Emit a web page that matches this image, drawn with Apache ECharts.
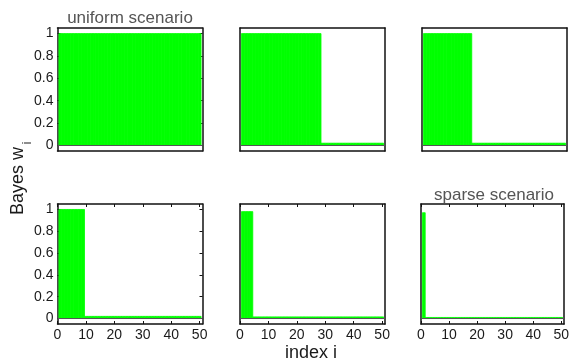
<!DOCTYPE html>
<html>
<head>
<meta charset="utf-8">
<script src="https://cdn.jsdelivr.net/npm/echarts@6/dist/echarts.min.js"></script>
<style>html,body{margin:0;padding:0;background:#fff}#c{width:572px;height:362px}</style>
</head>
<body>
<div id="c"></div>
<script>
// index i
const indexI = [1,2,3,4,5,6,7,8,9,10,11,12,13,14,15,16,17,18,19,20,21,22,23,24,25,26,27,28,29,30,31,32,33,34,35,36,37,38,39,40,41,42,43,44,45,46,47,48,49,50];
// Bayes weights per panel
const w1 = [1,1,1,1,1,1,1,1,1,1, 1,1,1,1,1,1,1,1,1,1, 1,1,1,1,1,1,1,1,1,1, 1,1,1,1,1,1,1,1,1,1, 1,1,1,1,1,1,1,1,1,1];
const w2 = [1,1,1,1,1,1,1,1,1,1, 1,1,1,1,1,1,1,1,1,1, 1,1,1,1,1,1,1,1,0.02,0.02, 0.02,0.02,0.02,0.02,0.02,0.02,0.02,0.02,0.02,0.02, 0.02,0.02,0.02,0.02,0.02,0.02,0.02,0.02,0.02,0.02];
const w3 = [1,1,1,1,1,1,1,1,1,1, 1,1,1,1,1,1,1,0.02,0.02,0.02, 0.02,0.02,0.02,0.02,0.02,0.02,0.02,0.02,0.02,0.02, 0.02,0.02,0.02,0.02,0.02,0.02,0.02,0.02,0.02,0.02, 0.02,0.02,0.02,0.02,0.02,0.02,0.02,0.02,0.02,0.02];
const w4 = [1,1,1,1,1,1,1,1,1,0.02, 0.02,0.02,0.02,0.02,0.02,0.02,0.02,0.02,0.02,0.02, 0.02,0.02,0.02,0.02,0.02,0.02,0.02,0.02,0.02,0.02, 0.02,0.02,0.02,0.02,0.02,0.02,0.02,0.02,0.02,0.02, 0.02,0.02,0.02,0.02,0.02,0.02,0.02,0.02,0.02,0.02];
const w5 = [0.98,0.98,0.98,0.98,0.015,0.015,0.015,0.015,0.015,0.015, 0.015,0.015,0.015,0.015,0.015,0.015,0.015,0.015,0.015,0.015, 0.015,0.015,0.015,0.015,0.015,0.015,0.015,0.015,0.015,0.015, 0.015,0.015,0.015,0.015,0.015,0.015,0.015,0.015,0.015,0.015, 0.015,0.015,0.015,0.015,0.015,0.015,0.015,0.015,0.015,0.015];
const w6 = [0.97,0.01,0.01,0.01,0.01,0.01,0.01,0.01,0.01,0.01, 0.01,0.01,0.01,0.01,0.01,0.01,0.01,0.01,0.01,0.01, 0.01,0.01,0.01,0.01,0.01,0.01,0.01,0.01,0.01,0.01, 0.01,0.01,0.01,0.01,0.01,0.01,0.01,0.01,0.01,0.01, 0.01,0.01,0.01,0.01,0.01,0.01,0.01,0.01,0.01,0.01];
const xTicks = [0,10,20,30,40,50];
const yTicks = [0,0.2,0.4,0.6,0.8,1];
const titleUniform = 'uniform scenario';
const titleSparse = 'sparse scenario';
const xLabel = 'index i';
const yLabel = 'Bayes w';
const yLabelSub = 'i';

const FONT = '"Liberation Sans", Arial, Helvetica, sans-serif';
const panels = [
  {data: w1, left: 57.5, top: 28,  xLab: false, yLab: true},
  {data: w2, left: 240,  top: 28,  xLab: false, yLab: false},
  {data: w3, left: 422,  top: 28,  xLab: false, yLab: false},
  {data: w4, left: 57.5, top: 204, xLab: true,  yLab: true},
  {data: w5, left: 240,  top: 204, xLab: true,  yLab: false},
  {data: w6, left: 421,  top: 204, xLab: true,  yLab: false}
];
const W = 145, Htop = 123, Hbot = 120;

const grid = [], xAxis = [], yAxis = [], series = [];
panels.forEach((p, k) => {
  grid.push({left: p.left, top: p.top, width: W, height: k < 3 ? Htop : Hbot, show: false});
  const lineStyle = {color: '#111', width: 1.5};
  const tickStyle = {color: '#111', width: 1};
  const labelStyle = {color: '#1a1a1a', fontSize: 14, fontFamily: FONT};
  xAxis.push({type: 'value', gridIndex: k, min: 0, max: 51, position: 'bottom',
    axisLine: {show: true, onZero: false, lineStyle},
    axisTick: {show: p.xLab, inside: true, length: 3, customValues: xTicks, lineStyle: tickStyle},
    axisLabel: {show: p.xLab, customValues: xTicks, margin: 4, ...labelStyle},
    splitLine: {show: false}});
  xAxis.push({type: 'value', gridIndex: k, min: 0, max: 51, position: 'top',
    axisLine: {show: true, onZero: false, lineStyle},
    axisTick: {show: p.xLab, inside: true, length: 3, customValues: xTicks, lineStyle: tickStyle},
    axisLabel: {show: false}, splitLine: {show: false}});
  yAxis.push({type: 'value', gridIndex: k, min: -0.05, max: 1.05, position: 'left',
    axisLine: {show: true, onZero: false, lineStyle},
    axisTick: {show: p.yLab, inside: true, length: 3, customValues: yTicks, lineStyle: tickStyle},
    axisLabel: {show: p.yLab, customValues: yTicks, margin: 4, ...labelStyle},
    splitLine: {show: false}});
  yAxis.push({type: 'value', gridIndex: k, min: -0.05, max: 1.05, position: 'right',
    axisLine: {show: true, onZero: false, lineStyle},
    axisTick: {show: p.yLab, inside: true, length: 3, customValues: yTicks, lineStyle: tickStyle},
    axisLabel: {show: false}, splitLine: {show: false}});
  series.push({
    type: 'custom', xAxisIndex: 2 * k, yAxisIndex: 2 * k,
    data: indexI.map((x, j) => [x, p.data[j]]),
    renderItem: function (params, api) {
      const x = api.value(0), y = api.value(1);
      const p0 = api.coord([x - 0.5, y]);
      const p1 = api.coord([x + 0.5, 0]);
      return {type: 'rect', shape: {x: p0[0], y: p0[1], width: p1[0] - p0[0], height: p1[1] - p0[1]},
        style: {fill: '#00ff00', stroke: '#00ff00', lineWidth: 0.8}};
    },
    silent: true,
    markLine: {silent: true, symbol: 'none', animation: false, label: {show: false},
      lineStyle: {color: '#555', width: 1, type: 'solid'}, data: [{yAxis: 0}]}
  });
});

const chart = echarts.init(document.getElementById('c'), null, {renderer: 'canvas'});
chart.setOption({
  animation: false,
  backgroundColor: '#fff',
  grid, xAxis, yAxis, series,
  graphic: [
    {type: 'text', x: 130, y: 18.5, style: {text: titleUniform, fontSize: 17, fontFamily: FONT, fill: '#555', align: 'center', verticalAlign: 'middle'}},
    {type: 'text', x: 494, y: 195, style: {text: titleSparse, fontSize: 17, fontFamily: FONT, fill: '#555', align: 'center', verticalAlign: 'middle'}},
    {type: 'text', x: 311, y: 353, style: {text: xLabel, fontSize: 18, fontFamily: FONT, fill: '#1a1a1a', align: 'center', verticalAlign: 'middle'}},
    {type: 'text', x: 18, y: 181, rotation: Math.PI / 2, style: {text: yLabel, fontSize: 18, fontFamily: FONT, fill: '#1a1a1a', align: 'center', verticalAlign: 'middle'}},
    {type: 'text', x: 28, y: 143, rotation: Math.PI / 2, style: {text: yLabelSub, fontSize: 12, fontFamily: FONT, fill: '#1a1a1a', align: 'center', verticalAlign: 'middle'}}
  ]
});
</script>
</body>
</html>
